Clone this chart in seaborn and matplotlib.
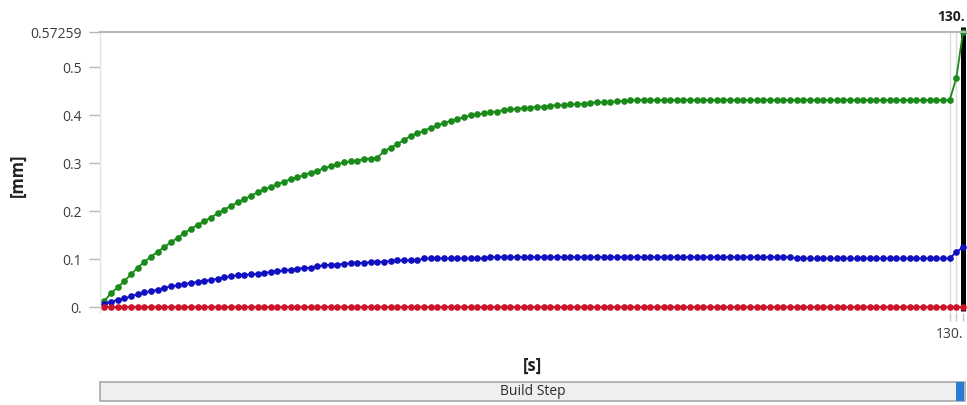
import matplotlib
matplotlib.use("Agg")
import matplotlib.pyplot as plt
import pandas as pd
import seaborn as sns
from matplotlib.patches import Rectangle

# Build step time [s]
time_s = list(range(1, 131))

# Deformation [mm] per build step
deform_green = [
    0.013, 0.029, 0.041, 0.054, 0.068, 0.082, 0.094, 0.105, 0.115, 0.125,
    0.135, 0.144, 0.154, 0.163, 0.171, 0.179, 0.186, 0.195, 0.203, 0.210,
    0.218, 0.225, 0.231, 0.239, 0.245, 0.250, 0.256, 0.261, 0.266, 0.270,
    0.275, 0.280, 0.284, 0.289, 0.293, 0.297, 0.301, 0.303, 0.305, 0.308,
    0.309, 0.311, 0.324, 0.332, 0.339, 0.348, 0.356, 0.362, 0.367, 0.373,
    0.378, 0.383, 0.387, 0.391, 0.395, 0.399, 0.401, 0.403, 0.406, 0.407,
    0.410, 0.412, 0.413, 0.414, 0.415, 0.417, 0.417, 0.419, 0.420, 0.420,
    0.422, 0.422, 0.423, 0.425, 0.426, 0.426, 0.427, 0.428, 0.429, 0.430,
    0.431, 0.431, 0.431, 0.431, 0.431, 0.431, 0.431, 0.431, 0.431, 0.431,
    0.431, 0.431, 0.431, 0.431, 0.431, 0.431, 0.431, 0.431, 0.431, 0.431,
    0.431, 0.431, 0.431, 0.431, 0.431, 0.431, 0.431, 0.431, 0.431, 0.431,
    0.431, 0.431, 0.431, 0.431, 0.431, 0.431, 0.431, 0.431, 0.431, 0.431,
    0.431, 0.431, 0.431, 0.431, 0.431, 0.431, 0.431, 0.431, 0.477, 0.57259,
]
deform_blue = [
    0.006, 0.011, 0.015, 0.018, 0.022, 0.027, 0.031, 0.033, 0.036, 0.040,
    0.043, 0.045, 0.048, 0.050, 0.052, 0.055, 0.056, 0.059, 0.062, 0.064,
    0.066, 0.067, 0.068, 0.069, 0.071, 0.073, 0.074, 0.076, 0.078, 0.080,
    0.081, 0.082, 0.085, 0.087, 0.088, 0.088, 0.090, 0.091, 0.091, 0.092,
    0.093, 0.094, 0.094, 0.096, 0.097, 0.097, 0.097, 0.097, 0.101, 0.101,
    0.101, 0.101, 0.101, 0.101, 0.101, 0.101, 0.101, 0.101, 0.104, 0.104,
    0.104, 0.104, 0.104, 0.104, 0.104, 0.104, 0.104, 0.104, 0.104, 0.104,
    0.104, 0.104, 0.104, 0.104, 0.104, 0.104, 0.104, 0.104, 0.104, 0.104,
    0.104, 0.104, 0.104, 0.104, 0.104, 0.104, 0.104, 0.104, 0.104, 0.104,
    0.104, 0.104, 0.104, 0.104, 0.104, 0.104, 0.104, 0.104, 0.104, 0.104,
    0.104, 0.104, 0.104, 0.104, 0.101, 0.101, 0.101, 0.101, 0.101, 0.101,
    0.101, 0.101, 0.101, 0.101, 0.101, 0.101, 0.101, 0.101, 0.101, 0.101,
    0.101, 0.101, 0.101, 0.101, 0.101, 0.101, 0.101, 0.101, 0.115, 0.124,
]
deform_red = [
    0.0, 0.0, 0.0, 0.0, 0.0, 0.0, 0.0, 0.0, 0.0, 0.0,
    0.0, 0.0, 0.0, 0.0, 0.0, 0.0, 0.0, 0.0, 0.0, 0.0,
    0.0, 0.0, 0.0, 0.0, 0.0, 0.0, 0.0, 0.0, 0.0, 0.0,
    0.0, 0.0, 0.0, 0.0, 0.0, 0.0, 0.0, 0.0, 0.0, 0.0,
    0.0, 0.0, 0.0, 0.0, 0.0, 0.0, 0.0, 0.0, 0.0, 0.0,
    0.0, 0.0, 0.0, 0.0, 0.0, 0.0, 0.0, 0.0, 0.0, 0.0,
    0.0, 0.0, 0.0, 0.0, 0.0, 0.0, 0.0, 0.0, 0.0, 0.0,
    0.0, 0.0, 0.0, 0.0, 0.0, 0.0, 0.0, 0.0, 0.0, 0.0,
    0.0, 0.0, 0.0, 0.0, 0.0, 0.0, 0.0, 0.0, 0.0, 0.0,
    0.0, 0.0, 0.0, 0.0, 0.0, 0.0, 0.0, 0.0, 0.0, 0.0,
    0.0, 0.0, 0.0, 0.0, 0.0, 0.0, 0.0, 0.0, 0.0, 0.0,
    0.0, 0.0, 0.0, 0.0, 0.0, 0.0, 0.0, 0.0, 0.0, 0.0,
    0.0, 0.0, 0.0, 0.0, 0.0, 0.0, 0.0, 0.0, 0.0, 0.0,
]

series_names = ["Maximum", "Average", "Minimum"]
series_colors = {"Maximum": "#1a8a1a", "Average": "#1010c0", "Minimum": "#cc1428"}

y_ticks = [0.0, 0.1, 0.2, 0.3, 0.4, 0.5, 0.57259]
y_tick_labels = ["0.", "0.1", "0.2", "0.3", "0.4", "0.5", "0.57259"]
x_end = 130
x_end_label = "130."

df = pd.DataFrame({
    "time": time_s * 3,
    "deformation": deform_green + deform_blue + deform_red,
    "series": [series_names[0]] * len(time_s)
              + [series_names[1]] * len(time_s)
              + [series_names[2]] * len(time_s),
})

sns.set_theme(style="white")
plt.rcParams["font.family"] = ["Open Sans", "DejaVu Sans"]

W, H = 967, 406
fig = plt.figure(figsize=(W / 100, H / 100), dpi=100)


def fx(px):
    return px / W


def fy(py):
    return 1 - py / H


ax = fig.add_axes([fx(100), fy(314), fx(866), (314 - 33) / H])

# cursor at the current step and light step markers near the end
ax.axvline(128, color="#dcdcdc", lw=1, zorder=0)
ax.axvline(129, color="#dcdcdc", lw=1, zorder=0)
ax.vlines(x_end, -0.008, 0.583, color="black", lw=3.6, clip_on=False, zorder=1.5)

sns.lineplot(
    data=df, x="time", y="deformation", hue="series",
    hue_order=series_names, palette=series_colors,
    marker="o", markersize=4.8, markeredgewidth=0,
    linewidth=1.3, legend=False, ax=ax, sort=False,
    estimator=None, clip_on=False,
)

ax.set_xlim(0.33, 130.45)
ax.set_ylim(-0.0125, 0.57259)

ax.set_yticks(y_ticks)
ax.set_yticklabels(y_tick_labels)
ax.tick_params(axis="y", left=True, length=8, width=1, color="#b8b8b8",
               pad=5, labelsize=10, labelcolor="#3c3c3c", direction="out")

ax.set_xticks([x_end])
ax.set_xticklabels([x_end_label])
ax.set_xticks([128, 129], minor=True)
ax.tick_params(axis="x", which="both", bottom=True, length=6, width=1,
               color="#c8c8c8", direction="out", pad=3,
               labelsize=10, labelcolor="#3c3c3c")
for lab in ax.get_xticklabels():
    lab.set_horizontalalignment("right")

ax.set_xlabel("")
ax.set_ylabel("")

for side in ["right", "bottom"]:
    ax.spines[side].set_visible(False)
ax.spines["top"].set_color("#b8b8b8")
ax.spines["top"].set_linewidth(1.5)
ax.spines["left"].set_color("#e4e4e4")
ax.spines["left"].set_linewidth(1)

fig.text(fx(965), fy(17), x_end_label, ha="right", va="center",
         fontsize=10, fontweight="bold", color="#222222")
fig.text(fx(18), fy(175), "[mm]", rotation=90, ha="center", va="center",
         fontsize=12, fontweight="bold", color="#222222")
fig.text(fx(533), fy(366), "[s]", ha="center", va="center",
         fontsize=12, fontweight="bold", color="#222222")

# build step slider
fig.patches.append(Rectangle((fx(100), fy(402)), fx(865), 19 / H,
                             transform=fig.transFigure, facecolor="#efefef",
                             edgecolor="#a8a8a8", lw=1.2))
fig.patches.append(Rectangle((fx(956), fy(402)), fx(8), 19 / H,
                             transform=fig.transFigure, facecolor="#2b7bd6",
                             edgecolor="none"))
fig.text(fx(533), fy(392), "Build Step", ha="center", va="center",
         fontsize=10, color="#2a2a2a")

fig.savefig("out.png", dpi=100, facecolor="white")
